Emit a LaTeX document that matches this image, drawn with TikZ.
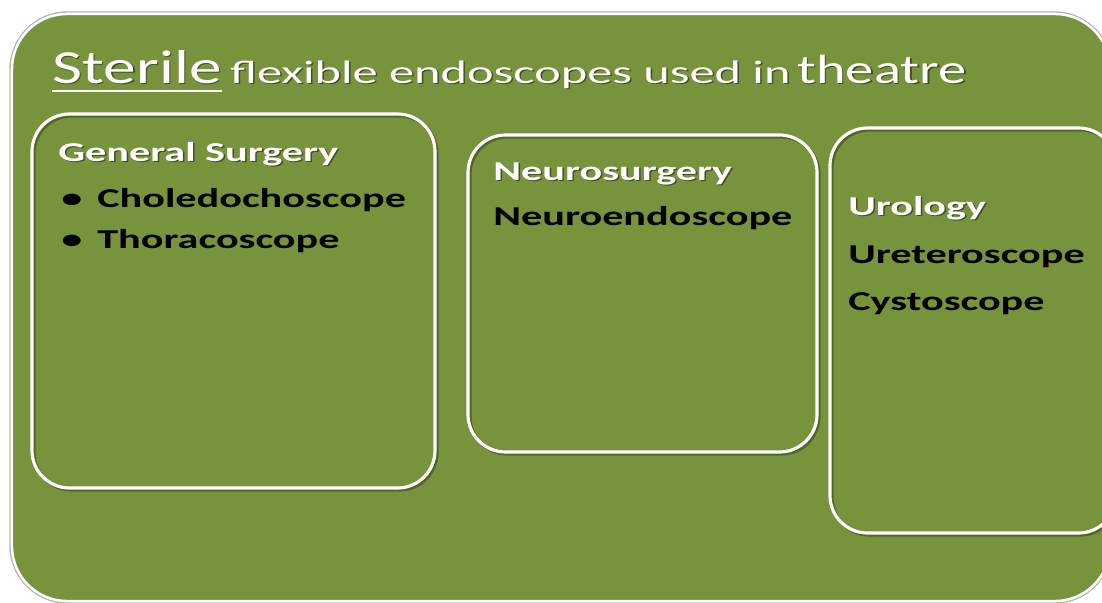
\documentclass[tikz,border=0pt]{standalone}
\usepackage{fontspec}
\setmainfont{Carlito}
\newfontfamily\slidefont[FakeStretch=1.55]{Carlito}
\newfontfamily\titlefont[FakeStretch=1.38]{Carlito}
\definecolor{slidegreen}{RGB}{119,147,60}
\tikzset{
  panel/.style={draw=white, line width=1.8pt, rounded corners=0.75cm},
  panelshadow/.style={draw=black, opacity=0.3, line width=1.8pt, rounded corners=0.75cm},
  heading/.style={anchor=base west, inner sep=0pt, text=white, font=\slidefont\bfseries\fontsize{15.5}{18}\selectfont},
  item/.style={anchor=base west, inner sep=0pt, text=black, font=\slidefont\bfseries\fontsize{15.5}{18}\selectfont},
  bigtitle/.style={anchor=base west, inner sep=0pt, text=white, font=\titlefont\fontsize{27}{30}\selectfont},
  midtitle/.style={anchor=base west, inner sep=0pt, text=white, font=\titlefont\fontsize{23.3}{27}\selectfont},
  smalltitle/.style={anchor=base west, inner sep=0pt, text=white, font=\slidefont\fontsize{18.5}{21}\selectfont},
  textshadow/.style={text=black, opacity=0.45}
}
\begin{document}
\begin{tikzpicture}[x=0.02cm, y=-0.02cm]
        \useasboundingbox (0,0) rectangle (1102,602);
        \clip (0,0) rectangle (1102,602);
        % Sfondo
        \draw [gray!60, line width=0.8pt, rounded corners=1.15cm] (10,12) rectangle (1112,603);
        \draw [fill=slidegreen, draw=white, line width=1.4pt, rounded corners=1.1cm] (12,14) rectangle (1110,601);
        % Riquadri
        \draw [panelshadow] (34,116) rectangle (437,490);
        \draw [panel] (32,114) rectangle (435,488);
        \draw [panelshadow] (470,137) rectangle (819,454);
        \draw [panel] (468,135) rectangle (817,452);
        \draw [panelshadow] (832,130) rectangle (1118,535);
        \draw [panel] (830,128) rectangle (1116,533);
        % Titolo
        \node [bigtitle, textshadow] (sterile-sh) at (53.5,84.5) {Sterile};
        \node [smalltitle, textshadow] (flex-sh) at (231.5,84.5) {flexible endoscopes used in};
        \node [midtitle, textshadow] (theatre-sh) at (798.5,84.5) {theatre};
        \node [bigtitle] (sterile) at (52,83) {Sterile};
        \node [smalltitle] (flex) at (230,83) {flexible endoscopes used in};
        \node [midtitle] (theatre) at (797,83) {theatre};
        \draw [white, line width=1.6pt] ([yshift=-4.5pt]sterile.base west) -- ([yshift=-4.5pt]sterile.base east);
        % Chirurgia generale
        \node [heading, textshadow] (gensurg-sh) at (59.5,162.5) {General Surgery};
        \node [heading] (gensurg) at (58,161) {General Surgery};
        \node [item] (bullet1) at (61,207) {\textbullet};
        \node [item] (chole) at (97,207) {Choledochoscope};
        \node [item] (bullet2) at (61,248) {\textbullet};
        \node [item] (thora) at (97,248) {Thoracoscope};
        % Neurochirurgia
        \node [heading, textshadow] (neurosurg-sh) at (494.5,181.5) {Neurosurgery};
        \node [heading] (neurosurg) at (493,180) {Neurosurgery};
        \node [item] (neuroendo) at (493,225) {Neuroendoscope};
        % Urologia
        \node [heading, textshadow] (urology-sh) at (849.5,216.5) {Urology};
        \node [heading] (urology) at (848,215) {Urology};
        \node [item] (uretero) at (848,263) {Ureteroscope};
        \node [item] (cysto) at (848,310) {Cystoscope};
    \end{tikzpicture}
\end{document}
